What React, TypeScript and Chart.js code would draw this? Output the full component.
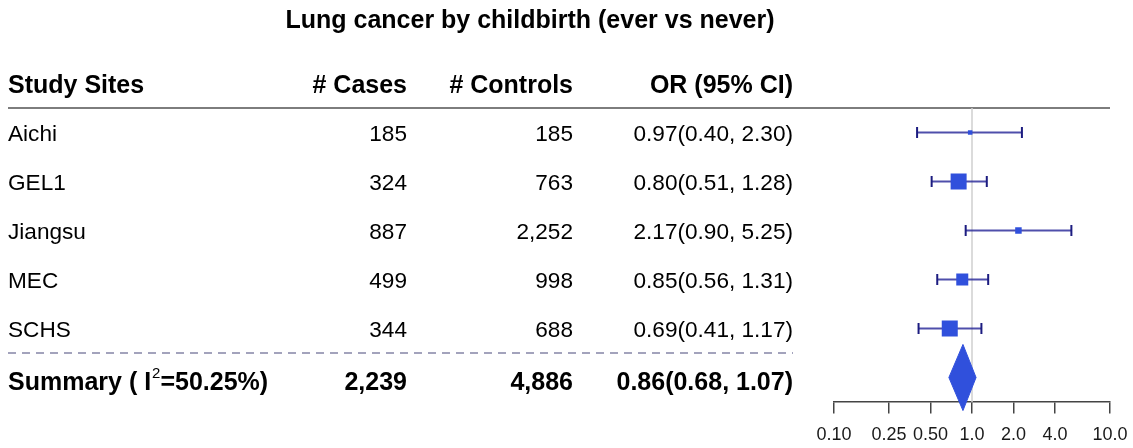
import React, { useEffect, useRef } from "react";
import { Chart, registerables } from "chart.js";

Chart.register(...registerables);

// ---------- data ----------
const chartTitle = "Lung cancer by childbirth (ever vs never)";
const headers = ["Study Sites", "# Cases", "# Controls", "OR (95% CI)"];
const sites = ["Aichi", "GEL1", "Jiangsu", "MEC", "SCHS"];
const cases = ["185", "324", "887", "499", "344"];
const controls = ["185", "763", "2,252", "998", "688"];
const oddsRatio = [0.97, 0.8, 2.17, 0.85, 0.69];
const ciLower = [0.4, 0.51, 0.9, 0.56, 0.41];
const ciUpper = [2.3, 1.28, 5.25, 1.31, 1.17];
const studyWeight = [4.5, 16, 6.5, 12, 16]; // relative box weight
const summaryName = "Summary ( I";
const summaryI2 = "50.25%";
const summaryCases = "2,239";
const summaryControls = "4,886";
const summaryOR = [0.86];
const summaryLower = [0.68];
const summaryUpper = [1.07];
const tickValues = [0.1, 0.25, 0.5, 1, 2, 4, 10];
const tickLabels = ["0.10", "0.25", "0.50", "1.0", "2.0", "4.0", "10.0"];

// ---------- style ----------
const FONT = "'Liberation Sans', Arial, Helvetica, sans-serif";
const BLUE = "#3050dc";
const NAVY_LINE = "rgba(35,35,150,0.8)";
const NAVY_CAP = "#1c1c80";
const COL_RIGHT = [407, 573, 793];
const LEFT_X = 8;
const DIAMOND_HALF = 0.675;

const fmt = (v: number) => v.toFixed(2);
const orText = (o: number, l: number, h: number) => `${fmt(o)}(${fmt(l)}, ${fmt(h)})`;

const tablePlugin = {
  id: "forestTable",
  beforeDatasetsDraw(chart: any) {
    const { ctx, scales } = chart;
    const x = scales.x;
    const y = scales.y;
    ctx.save();
    const ruleY = y.getPixelForValue(0.5);
    ctx.strokeStyle = "#7d7d7d";
    ctx.lineWidth = 2;
    ctx.beginPath();
    ctx.moveTo(LEFT_X, ruleY);
    ctx.lineTo(x.right, ruleY);
    ctx.stroke();
    const dashY = y.getPixelForValue(sites.length + 0.5);
    ctx.strokeStyle = "#8585a6";
    ctx.lineWidth = 1.5;
    ctx.setLineDash([8, 6]);
    ctx.beginPath();
    ctx.moveTo(LEFT_X, dashY);
    ctx.lineTo(COL_RIGHT[2], dashY);
    ctx.stroke();
    ctx.restore();
  },
  afterDraw(chart: any) {
    const { ctx, scales } = chart;
    const y = scales.y;
    ctx.save();
    ctx.fillStyle = "#000";
    ctx.textBaseline = "alphabetic";

    ctx.font = `bold 25px ${FONT}`;
    ctx.textAlign = "center";
    ctx.fillText(chartTitle, 530, 28);

    const hy = y.getPixelForValue(0) + 9;
    ctx.textAlign = "left";
    ctx.fillText(headers[0], LEFT_X, hy);
    ctx.textAlign = "right";
    for (let c = 1; c < headers.length; c++) ctx.fillText(headers[c], COL_RIGHT[c - 1], hy);

    ctx.font = `22.6px ${FONT}`;
    sites.forEach((s, i) => {
      const ry = y.getPixelForValue(i + 1) + 8.5;
      ctx.textAlign = "left";
      ctx.fillText(s, LEFT_X, ry);
      ctx.textAlign = "right";
      ctx.fillText(cases[i], COL_RIGHT[0], ry);
      ctx.fillText(controls[i], COL_RIGHT[1], ry);
      ctx.fillText(orText(oddsRatio[i], ciLower[i], ciUpper[i]), COL_RIGHT[2], ry);
    });

    const sy = y.getPixelForValue(sites.length + 1) + 12.5;
    ctx.font = `bold 25px ${FONT}`;
    ctx.textAlign = "left";
    ctx.fillText(summaryName, LEFT_X, sy);
    let cx = LEFT_X + ctx.measureText(summaryName).width;
    ctx.font = `15px ${FONT}`;
    ctx.fillText("2", cx + 1, sy - 12);
    cx += ctx.measureText("2").width + 1;
    ctx.font = `bold 25px ${FONT}`;
    ctx.fillText("=" + summaryI2 + ")", cx, sy);
    ctx.textAlign = "right";
    ctx.fillText(summaryCases, COL_RIGHT[0], sy);
    ctx.fillText(summaryControls, COL_RIGHT[1], sy);
    ctx.fillText(orText(summaryOR[0], summaryLower[0], summaryUpper[0]), COL_RIGHT[2], sy);
    ctx.restore();
  },
};

export default function App() {
  const ref = useRef<HTMLCanvasElement | null>(null);

  useEffect(() => {
    if (!ref.current) return;
    const sumRow = sites.length + 1;

    const ciSets = sites.map((_, i) => ({
      type: "line" as const,
      data: [
        { x: ciLower[i], y: i + 1 },
        { x: ciUpper[i], y: i + 1 },
      ],
      showLine: true,
      borderColor: NAVY_LINE,
      borderWidth: 2,
      pointStyle: "line" as const,
      rotation: 90,
      pointRadius: 5.5,
      pointBorderColor: NAVY_CAP,
      pointBorderWidth: 2,
      pointHoverRadius: 5.5,
    }));

    const chart = new Chart(ref.current, {
      type: "scatter",
      data: {
        datasets: [
          {
            type: "line",
            data: [
              { x: summaryLower[0], y: sumRow },
              { x: summaryOR[0], y: sumRow - DIAMOND_HALF },
              { x: summaryUpper[0], y: sumRow },
              { x: summaryOR[0], y: sumRow + DIAMOND_HALF },
              { x: summaryLower[0], y: sumRow },
            ],
            showLine: true,
            fill: "shape",
            backgroundColor: BLUE,
            borderColor: BLUE,
            borderWidth: 1,
            pointRadius: 0,
            tension: 0,
          } as any,
          {
            data: oddsRatio.map((v, i) => ({ x: v, y: i + 1 })),
            pointStyle: "rect",
            pointRadius: studyWeight.map((w) => w / Math.SQRT2),
            pointHoverRadius: studyWeight.map((w) => w / Math.SQRT2),
            pointBackgroundColor: BLUE,
            pointBorderWidth: 0,
            showLine: false,
          } as any,
          ...ciSets,
          {
            type: "line",
            data: [
              { x: 1, y: 0.5 },
              { x: 1, y: sumRow + 0.5 },
            ],
            showLine: true,
            borderColor: "#cfcfcf",
            borderWidth: 1.5,
            pointRadius: 0,
          } as any,
        ],
      },
      options: {
        animation: false,
        responsive: false,
        devicePixelRatio: 1,
        layout: { padding: { left: 834, right: 23, top: 108, bottom: 21.5 } },
        plugins: { legend: { display: false }, tooltip: { enabled: false } },
        scales: {
          x: {
            type: "logarithmic",
            position: { y: sumRow + 0.5 } as any,
            min: tickValues[0],
            max: tickValues[tickValues.length - 1],
            afterBuildTicks: (scale: any) => {
              scale.ticks = tickValues.map((v) => ({ value: v }));
            },
            afterFit: (scale: any) => {
              scale.paddingLeft = 0;
              scale.paddingRight = 0;
            },
            ticks: {
              callback: (_v: any, idx: number) => tickLabels[idx],
              color: "#1a1a1a",
              font: { family: FONT, size: 18 },
              padding: 11,
              maxRotation: 0,
              autoSkip: false,
            },
            grid: {
              drawOnChartArea: false,
              drawTicks: true,
              tickLength: 11,
              color: "#444",
              lineWidth: 1.5,
            },
            border: { display: true, color: "#444", width: 1.5 },
          },
          y: {
            type: "linear",
            display: false,
            reverse: true,
            min: 0.5,
            max: 7.0,
          },
        },
      },
      plugins: [tablePlugin],
    } as any);

    return () => chart.destroy();
  }, []);

  return (
    <div style={{ position: "fixed", left: 0, top: 0, width: 1133, height: 448, background: "#fff" }}>
      <canvas ref={ref} width={1133} height={448} style={{ width: 1133, height: 448, display: "block" }} />
    </div>
  );
}
